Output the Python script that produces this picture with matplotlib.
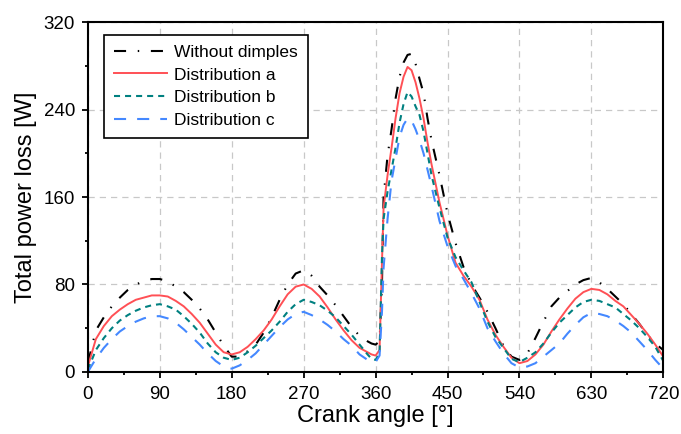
import numpy as np
import matplotlib
matplotlib.use("Agg")
import matplotlib.pyplot as plt
from matplotlib.ticker import MultipleLocator

plt.rcParams['font.family'] = ['Liberation Sans', 'DejaVu Sans']

# crank angle [deg]
angle = [0, 10, 20, 30, 40, 50, 60, 70, 80, 90, 100, 110, 120, 130, 140, 150, 160, 170,
         180, 190, 200, 210, 220, 230, 240, 250, 260, 270, 280, 290, 300, 310, 320, 330,
         340, 350, 355, 360, 365, 368, 370, 375, 380, 385, 390, 395, 400, 405, 410, 415,
         420, 425, 430, 440, 450, 460, 470, 480, 490, 500, 510, 520, 530, 540, 550, 560,
         570, 580, 590, 600, 610, 620, 630, 640, 650, 660, 670, 680, 690, 700, 710, 720]

# total power loss [W]
no_dimples = [8, 38, 50, 60, 68, 75, 80, 83, 85, 85, 83, 78, 73, 66, 58, 48, 36, 24,
              14, 14, 19, 25, 36, 50, 66, 80, 90, 93, 88, 78, 70, 61, 51, 41,
              33, 28, 26, 25, 28, 80, 160, 198, 222, 250, 270, 283, 290, 291, 282, 268,
              255, 232, 212, 180, 145, 118, 96, 80, 68, 55, 40, 24, 14, 11, 17, 31,
              46, 60, 68, 74, 80, 84, 86, 82, 76, 69, 62, 53, 44, 34, 26, 20]
dist_a = [5, 30, 42, 51, 57, 62, 66, 68, 70, 70, 69, 65, 60, 53, 45, 35, 25, 18,
          16, 18, 23, 30, 38, 48, 60, 71, 78, 80, 76, 69, 59, 48, 38, 29,
          22, 18, 16, 15, 20, 100, 150, 180, 205, 232, 255, 270, 279, 276, 265, 250,
          232, 210, 190, 155, 125, 100, 88, 78, 66, 48, 34, 23, 13, 8, 10, 16,
          25, 37, 48, 58, 67, 73, 76, 75, 71, 65, 60, 52, 44, 35, 25, 14]
dist_b = [2, 20, 31, 40, 47, 52, 56, 59, 61, 62, 60, 57, 51, 44, 36, 26, 18, 13,
          11, 13, 18, 24, 31, 38, 46, 55, 62, 66, 64, 61, 56, 50, 42, 34,
          25, 16, 12, 11, 17, 105, 140, 165, 185, 205, 228, 245, 256, 252, 243, 235,
          220, 200, 180, 150, 123, 105, 93, 82, 64, 46, 32, 22, 12, 9, 13, 18,
          26, 36, 45, 52, 59, 64, 66, 65, 62, 59, 53, 47, 40, 32, 23, 10]
dist_c = [0, 12, 22, 30, 37, 42, 46, 49, 51, 51, 49, 45, 39, 32, 25, 17, 10, 5,
          3, 6, 11, 17, 25, 33, 41, 48, 53, 55, 52, 48, 43, 37, 30, 24,
          16, 11, 9, 9, 15, 55, 95, 140, 175, 195, 215, 226, 232, 230, 222, 212,
          200, 185, 170, 138, 115, 97, 85, 72, 58, 40, 28, 17, 8, 4, 5, 8,
          14, 20, 26, 35, 43, 50, 54, 53, 51, 47, 42, 36, 28, 20, 11, 3]

fig = plt.figure(figsize=(6.81, 4.34), dpi=100)
ax = fig.add_axes([0.129, 0.143, 0.845, 0.806])

ax.plot(angle, no_dimples, color='black', lw=1.5, ls=(0, (5.8, 5.6, 0.7, 5.6)), label='Without dimples')
ax.plot(angle, dist_a, color='#ff5055', lw=1.4, ls='-', label='Distribution a')
ax.plot(angle, dist_b, color='#008080', lw=1.5, ls=(0, (2.9, 2.4)), label='Distribution b')
ax.plot(angle, dist_c, color='#4488ff', lw=1.5, ls=(0, (5.8, 5.3)), label='Distribution c')

ax.set_xlim(0, 720)
ax.set_ylim(0, 320)
ax.xaxis.set_major_locator(MultipleLocator(90))
ax.xaxis.set_minor_locator(MultipleLocator(45))
ax.yaxis.set_major_locator(MultipleLocator(80))
ax.yaxis.set_minor_locator(MultipleLocator(40))
ax.grid(True, which='major', color='#c8c8c8', ls=(0, (5, 4)), lw=0.9)
ax.tick_params(which='major', direction='out', length=4.3, width=1.3, labelsize=13.5,
               top=False, right=False)
ax.tick_params(axis='x', which='major', pad=6)
ax.tick_params(axis='y', which='major', pad=5)
ax.tick_params(which='minor', direction='out', length=2.2, width=1.3, top=False, right=False)
for s in ax.spines.values():
    s.set_linewidth(1.5)

ax.set_xlabel('Crank angle [°]', fontsize=17, labelpad=1)
ax.set_ylabel('Total power loss [W]', fontsize=17, labelpad=5)

leg = ax.legend(loc='upper left', bbox_to_anchor=(0.028, 0.963), borderaxespad=0,
                fontsize=12.5, frameon=True, fancybox=False, edgecolor='black', framealpha=1,
                handlelength=3.1, borderpad=0.55, labelspacing=0.44, handletextpad=0.4)
leg.get_frame().set_linewidth(1.2)

fig.savefig('out.png', dpi=100)
